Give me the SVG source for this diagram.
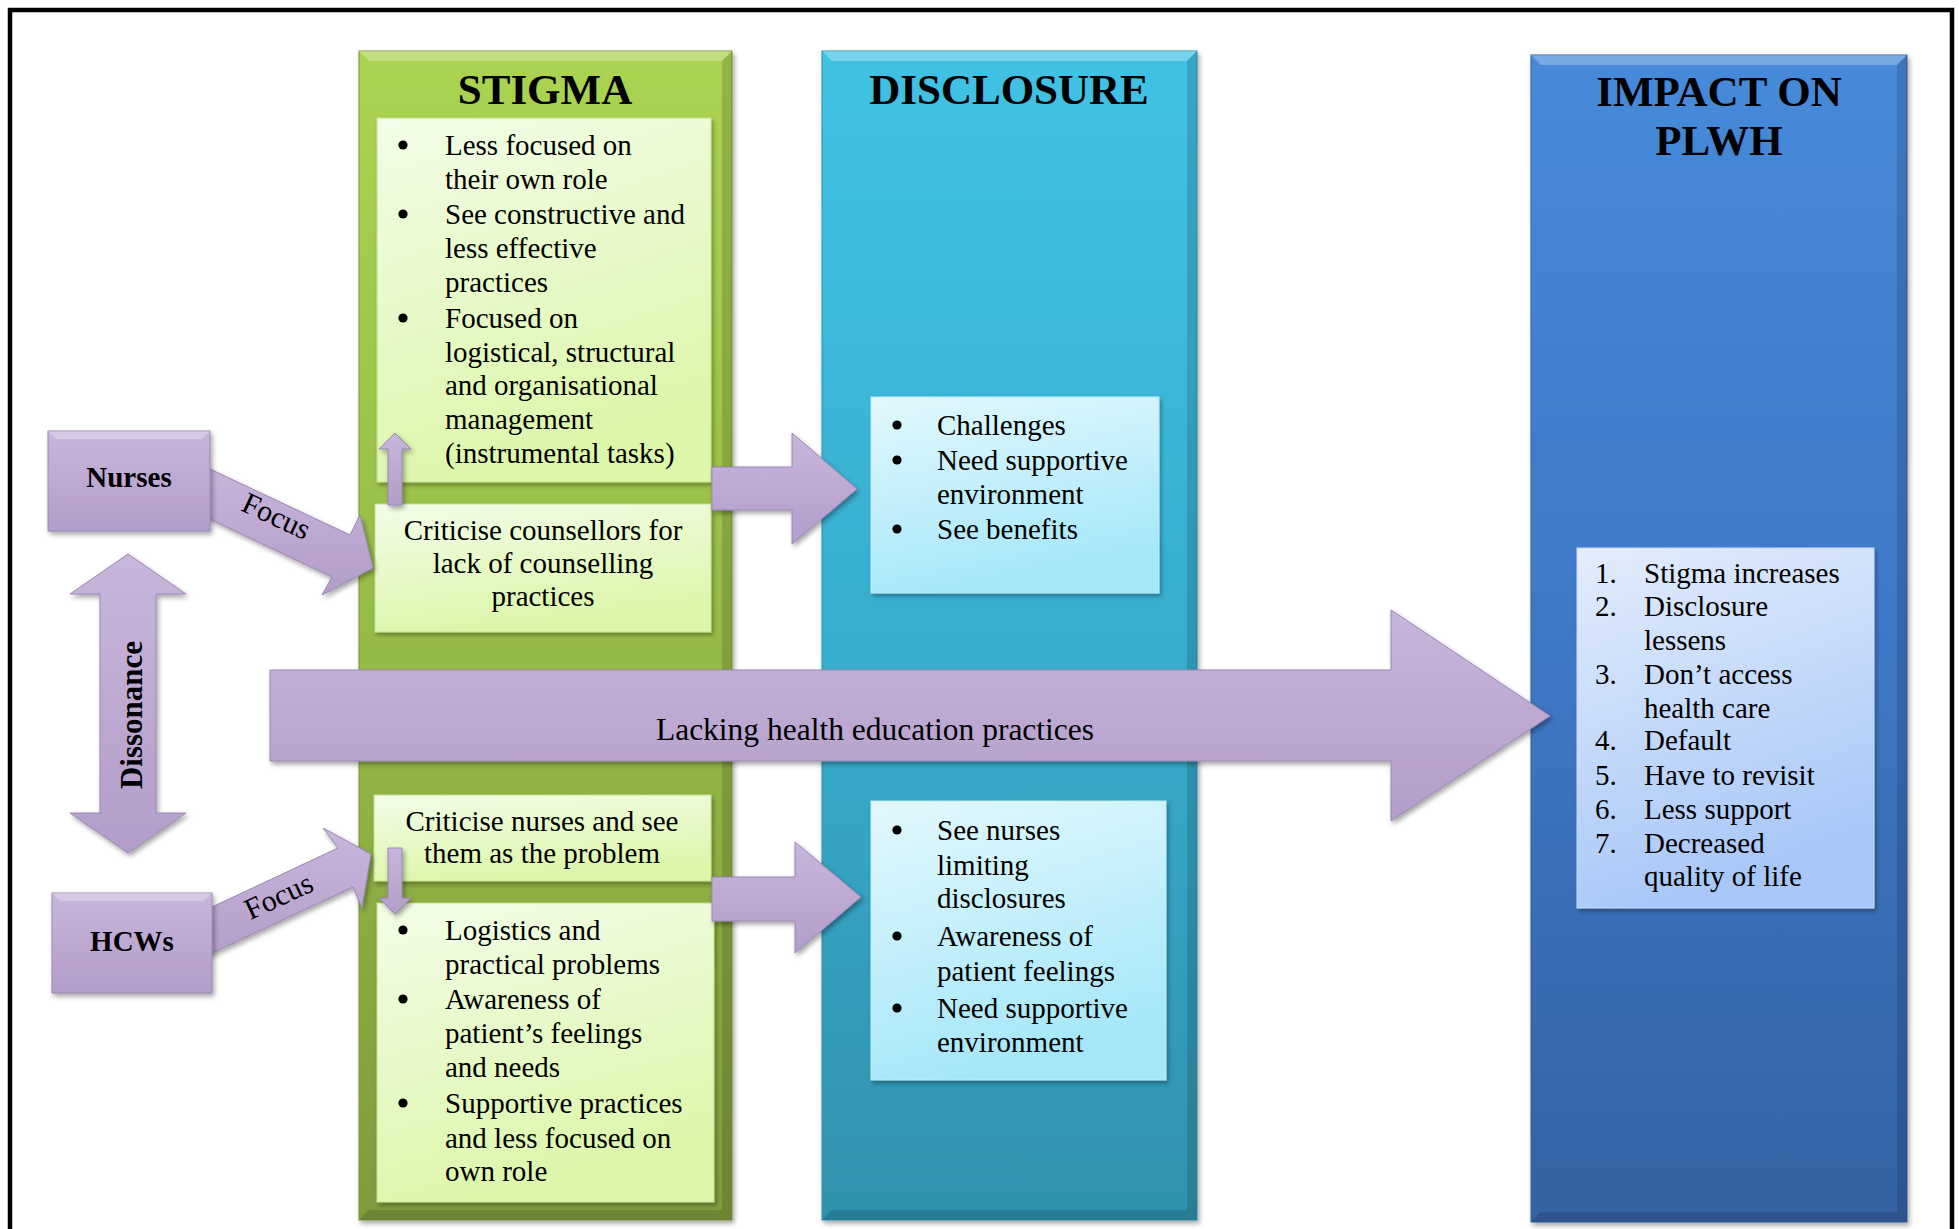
<svg xmlns="http://www.w3.org/2000/svg" width="1959" height="1229" viewBox="0 0 1959 1229">
<defs>
<style>
.t{font-family:"Liberation Serif","Times New Roman",serif;font-size:29px;fill:#000}
.b{font-weight:bold}
.h{font-size:43px;font-weight:bold;text-anchor:middle}
.c{text-anchor:middle}
.p{fill:url(#gP);stroke:#9a86b4;stroke-width:1;filter:url(#sh)}
.bx{stroke-width:1;filter:url(#sh2)}
.hl{fill:#fff;opacity:0.28}
.dk{fill:#000;opacity:0.14}
</style>
<circle id="bul" r="4.6" fill="#000"/>
<filter id="sh" x="-10%" y="-10%" width="130%" height="130%"><feDropShadow dx="2" dy="3" stdDeviation="2.5" flood-color="#000" flood-opacity="0.35"/></filter>
<filter id="sh2" x="-10%" y="-10%" width="130%" height="130%"><feDropShadow dx="2" dy="3" stdDeviation="2" flood-color="#000" flood-opacity="0.3"/></filter>
<linearGradient id="gS" x1="0" y1="0" x2="0" y2="1"><stop offset="0" stop-color="#aad451"/><stop offset="0.5" stop-color="#96bc47"/><stop offset="1" stop-color="#7e9b3d"/></linearGradient>
<linearGradient id="gD" x1="0" y1="0" x2="0" y2="1"><stop offset="0" stop-color="#40c2e4"/><stop offset="0.5" stop-color="#38aed0"/><stop offset="1" stop-color="#2f92ad"/></linearGradient>
<linearGradient id="gI" x1="0" y1="0" x2="0" y2="1"><stop offset="0" stop-color="#468ada"/><stop offset="0.5" stop-color="#3e78c6"/><stop offset="1" stop-color="#3462a3"/></linearGradient>
<linearGradient id="gSB" x1="0" y1="0" x2="0.3" y2="1"><stop offset="0" stop-color="#f3fde8"/><stop offset="1" stop-color="#dcf6aa"/></linearGradient>
<linearGradient id="gDB" x1="0" y1="0" x2="0.3" y2="1"><stop offset="0" stop-color="#e3f8fd"/><stop offset="1" stop-color="#a5e7f9"/></linearGradient>
<linearGradient id="gIB" x1="0" y1="0" x2="0.3" y2="1"><stop offset="0" stop-color="#e3edfc"/><stop offset="1" stop-color="#a8c7f8"/></linearGradient>
<linearGradient id="gP" x1="0" y1="0" x2="0" y2="1"><stop offset="0" stop-color="#c8b6dc"/><stop offset="0.5" stop-color="#bea9d2"/><stop offset="1" stop-color="#b39dca"/></linearGradient>
</defs>
<rect width="1959" height="1229" fill="#fff"/>
<path d="M10,1240 V10 H1952 V1240" fill="none" stroke="#000" stroke-width="4.5"/>

<g id="stigma">
<rect x="359" y="51" width="373" height="1169" fill="url(#gS)" stroke="#7a963a" stroke-width="1" filter="url(#sh)"/>
<polygon class="hl" points="359,51 732,51 722,61 369,61"/>
<polygon class="dk" points="359,1220 732,1220 722,1210 369,1210"/>
<polygon class="dk" points="732,51 732,1220 722,1210 722,61"/>
<text class="t h" x="545" y="104">STIGMA</text>
</g>
<g id="disclosure">
<rect x="822" y="51" width="375" height="1169" fill="url(#gD)" stroke="#2e8fa9" stroke-width="1" filter="url(#sh)"/>
<polygon class="hl" points="822,51 1197,51 1187,61 832,61"/>
<polygon class="dk" points="822,1220 1197,1220 1187,1210 832,1210"/>
<polygon class="dk" points="1197,51 1197,1220 1187,1210 1187,61"/>
<text class="t h" x="1009" y="104">DISCLOSURE</text>
</g>
<g id="impact">
<rect x="1531" y="55" width="376" height="1167" fill="url(#gI)" stroke="#315f9e" stroke-width="1" filter="url(#sh)"/>
<polygon class="hl" points="1531,55 1907,55 1897,65 1541,65"/>
<polygon class="dk" points="1531,1222 1907,1222 1897,1212 1541,1212"/>
<polygon class="dk" points="1907,55 1907,1222 1897,1212 1897,65"/>
<text class="t h" x="1719" y="106">IMPACT ON</text>
<text class="t h" x="1719" y="155">PLWH</text>
</g>

<g id="stigma-nurses">
<rect class="bx" x="377" y="118" width="334" height="364" fill="url(#gSB)" stroke="#c4e08e"/>
<use href="#bul" x="403" y="145"/><use href="#bul" x="403" y="214"/><use href="#bul" x="403" y="318"/>
<g class="t">
<text x="445" y="155">Less focused on</text>
<text x="445" y="189">their own role</text>
<text x="445" y="224">See constructive and</text>
<text x="445" y="258">less effective</text>
<text x="445" y="292">practices</text>
<text x="445" y="328">Focused on</text>
<text x="445" y="362">logistical, structural</text>
<text x="445" y="395">and organisational</text>
<text x="445" y="429">management</text>
<text x="445" y="463">(instrumental tasks)</text>
</g>
</g>
<g id="criticise-counsellors">
<rect class="bx" x="375" y="504" width="336" height="128" fill="url(#gSB)" stroke="#c4e08e"/>
<g class="t c">
<text x="543" y="540">Criticise counsellors for</text>
<text x="543" y="573">lack of counselling</text>
<text x="543" y="606">practices</text>
</g>
</g>
<g id="criticise-nurses">
<rect class="bx" x="374" y="795" width="337" height="86" fill="url(#gSB)" stroke="#c4e08e"/>
<g class="t c">
<text x="542" y="831">Criticise nurses and see</text>
<text x="542" y="863">them as the problem</text>
</g>
</g>
<g id="stigma-hcws">
<rect class="bx" x="377" y="903" width="337" height="299" fill="url(#gSB)" stroke="#c4e08e"/>
<use href="#bul" x="403" y="930"/><use href="#bul" x="403" y="999"/><use href="#bul" x="403" y="1103"/>
<g class="t">
<text x="445" y="940">Logistics and</text>
<text x="445" y="974">practical problems</text>
<text x="445" y="1009">Awareness of</text>
<text x="445" y="1043">patient’s feelings</text>
<text x="445" y="1077">and needs</text>
<text x="445" y="1113">Supportive practices</text>
<text x="445" y="1148">and less focused on</text>
<text x="445" y="1181">own role</text>
</g>
</g>
<g id="disclosure-nurses">
<rect class="bx" x="871" y="397" width="288" height="196" fill="url(#gDB)" stroke="#bdeefa"/>
<use href="#bul" x="897" y="425"/><use href="#bul" x="897" y="460"/><use href="#bul" x="897" y="529"/>
<g class="t">
<text x="937" y="435">Challenges</text>
<text x="937" y="470">Need supportive</text>
<text x="937" y="504">environment</text>
<text x="937" y="539">See benefits</text>
</g>
</g>
<g id="disclosure-hcws">
<rect class="bx" x="871" y="801" width="295" height="279" fill="url(#gDB)" stroke="#bdeefa"/>
<use href="#bul" x="897" y="830"/><use href="#bul" x="897" y="936"/><use href="#bul" x="897" y="1008"/>
<g class="t">
<text x="937" y="840">See nurses</text>
<text x="937" y="875">limiting</text>
<text x="937" y="908">disclosures</text>
<text x="937" y="946">Awareness of</text>
<text x="937" y="981">patient feelings</text>
<text x="937" y="1018">Need supportive</text>
<text x="937" y="1052">environment</text>
</g>
</g>
<g id="impact-list">
<rect class="bx" x="1577" y="548" width="297" height="360" fill="url(#gIB)" stroke="#c8dafa"/>
<g class="t">
<text x="1595" y="583">1.</text><text x="1644" y="583">Stigma increases</text>
<text x="1595" y="616">2.</text><text x="1644" y="616">Disclosure</text>
<text x="1644" y="650">lessens</text>
<text x="1595" y="684">3.</text><text x="1644" y="684">Don’t access</text>
<text x="1644" y="718">health care</text>
<text x="1595" y="750">4.</text><text x="1644" y="750">Default</text>
<text x="1595" y="785">5.</text><text x="1644" y="785">Have to revisit</text>
<text x="1595" y="819">6.</text><text x="1644" y="819">Less support</text>
<text x="1595" y="853">7.</text><text x="1644" y="853">Decreased</text>
<text x="1644" y="886">quality of life</text>
</g>
</g>

<g id="connectors">
<polygon class="p" points="195,462 350,535 360,515 373,568 322,595 332,577 195,512"/>
<text class="t" transform="translate(276,517) rotate(25)" text-anchor="middle" y="9" style="font-size:30px">Focus</text>
<polygon class="p" points="195,915 338,848 323,828 371,854 362,908 353,887 195,961"/>
<text class="t" transform="translate(279,897) rotate(-25)" text-anchor="middle" y="9" style="font-size:30px">Focus</text>
<polygon class="p" points="128,554 186,594 156,594 156,813 186,813 128,853 70,813 100,813 100,594 70,594"/>
<text class="t b" transform="translate(142,715) rotate(-90)" text-anchor="middle" style="font-size:31px">Dissonance</text>
<polygon class="p" points="388,505 388,449 379,449 395,433 411,449 402,449 402,505"/>
<polygon class="p" points="388,848 402,848 402,898 411,898 395,914 379,898 388,898"/>
<polygon class="p" points="712,467 792,467 792,433 857,489 792,544 792,510 712,510"/>
<polygon class="p" points="712,877 795,877 795,842 861,897 795,953 795,921 712,921"/>
<polygon class="p" points="270,670 1391,670 1391,610 1550,716 1391,821 1391,761 270,761"/>
<text class="t c" x="875" y="740" style="font-size:31.5px">Lacking health education practices</text>
</g>

<g id="nurses">
<rect class="p" x="48" y="431" width="162" height="100"/>
<polygon class="hl" points="48,431 210,431 202,439 56,439"/>
<text class="t b c" x="129" y="487">Nurses</text>
</g>
<g id="hcws">
<rect class="p" x="52" y="893" width="160" height="100"/>
<polygon class="hl" points="52,893 212,893 204,901 60,901"/>
<text class="t b c" x="132" y="951">HCWs</text>
</g>
</svg>
